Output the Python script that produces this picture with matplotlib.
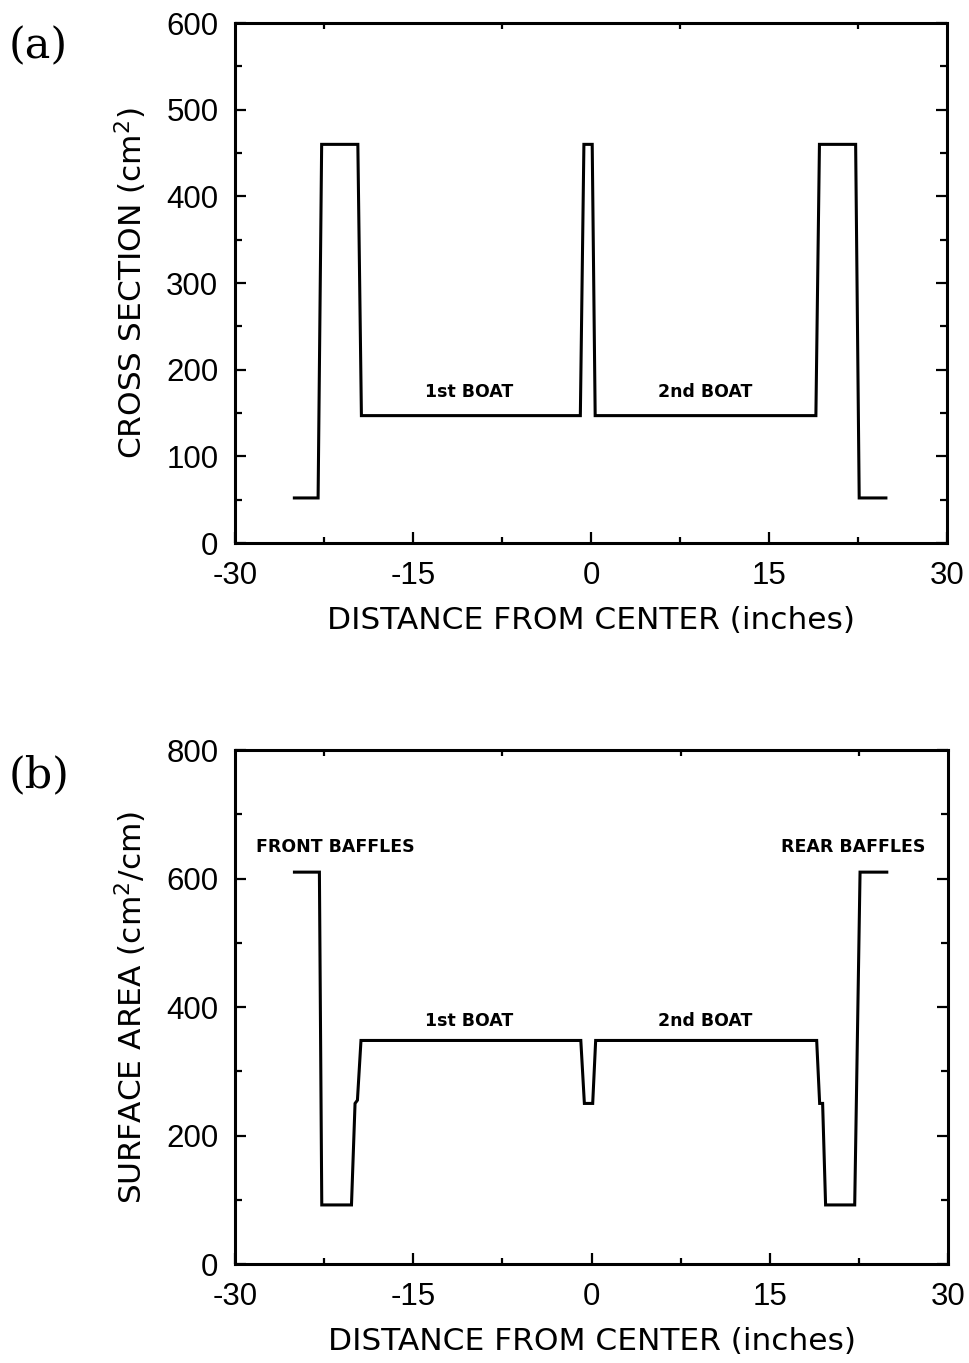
import matplotlib
matplotlib.use("Agg")
import matplotlib.pyplot as plt
from matplotlib import font_manager
from matplotlib.ticker import MultipleLocator

# Panel (a): cross section profile along the furnace (inches, cm^2)
xs_pos = [-25.0, -23.0, -22.7, -19.65, -19.35, -0.9, -0.6, 0.1, 0.35,
          18.95, 19.25, 22.3, 22.6, 24.85]
xs_val = [52, 52, 460, 460, 147, 147, 460, 460, 147,
          147, 460, 460, 52, 52]

# Panel (b): surface area per unit length (inches, cm^2/cm)
sa_pos = [-25.0, -22.9, -22.7, -20.2, -19.9, -19.7, -19.4, -0.9, -0.6, 0.1, 0.35,
          18.95, 19.2, 19.45, 19.7, 22.15, 22.6, 24.85]
sa_val = [610, 610, 92, 92, 250, 255, 348, 348, 250, 250, 348,
          348, 250, 250, 92, 92, 610, 610]

x_ticks = [-30, -15, 0, 15, 30]
xs_yticks = [0, 100, 200, 300, 400, 500, 600]
sa_yticks = [0, 200, 400, 600, 800]

boat_labels = ["1st BOAT", "2nd BOAT"]
boat_x = [-10.3, 9.6]
baffle_labels = ["FRONT BAFFLES", "REAR BAFFLES"]
baffle_x = [-21.6, 22.0]

plt.rcParams["axes.unicode_minus"] = False

installed = {f.name for f in font_manager.fontManager.ttflist}
LABEL_FONT = "DejaVu Sans"
for cand in ["Liberation Sans Narrow", "DejaVu Sans Condensed"]:
    if cand in installed:
        LABEL_FONT = cand
        break
condensed = LABEL_FONT != "DejaVu Sans"
LABEL_SIZE = 25 if condensed else 22.5
TICK_FONT = "Liberation Sans"

fig = plt.figure(figsize=(9.7, 13.63), dpi=100)
ax_a = fig.add_axes([0.2423, 0.6016, 0.7340, 0.3815])
ax_b = fig.add_axes([0.2423, 0.0726, 0.7350, 0.3771])


def style_axes(ax, yticks, yminor):
    ax.set_xlim(-30, 30)
    ax.set_ylim(yticks[0], yticks[-1])
    ax.set_xticks(x_ticks)
    ax.set_yticks(yticks)
    ax.xaxis.set_minor_locator(MultipleLocator(7.5))
    ax.yaxis.set_minor_locator(MultipleLocator(yminor))
    for sp in ax.spines.values():
        sp.set_linewidth(2.2)
    ax.tick_params(which="both", direction="in", top=True, right=True,
                   labeltop=False, labelright=False, width=1.6)
    ax.tick_params(which="major", length=8)
    ax.tick_params(which="minor", length=5)
    ax.tick_params(axis="x", which="major", top=False, pad=13)
    ax.tick_params(axis="x", which="minor", top=True, length=4)
    ax.tick_params(axis="y", which="major", pad=12)
    for lab in ax.get_xticklabels() + ax.get_yticklabels():
        lab.set_fontfamily(TICK_FONT)
        lab.set_fontsize(22.5)
    ax.set_xlabel("DISTANCE FROM CENTER (inches)", fontfamily=LABEL_FONT,
                  fontsize=LABEL_SIZE, labelpad=11)


ax_a.plot(xs_pos, xs_val, color="black", lw=2.2, solid_joinstyle="miter")
style_axes(ax_a, xs_yticks, 50)
ax_a.set_ylabel("CROSS SECTION (cm$^2$)", fontfamily=LABEL_FONT,
                fontsize=LABEL_SIZE, labelpad=12)
for lab, x in zip(boat_labels, boat_x):
    ax_a.text(x, 174, lab, ha="center", va="center", fontfamily=LABEL_FONT,
              fontweight="bold", fontsize=12.5)

ax_b.plot(sa_pos, sa_val, color="black", lw=2.2, solid_joinstyle="miter")
style_axes(ax_b, sa_yticks, 100)
ax_b.set_ylabel("SURFACE AREA (cm$^2$/cm)", fontfamily=LABEL_FONT,
                fontsize=LABEL_SIZE, labelpad=12)
for lab, x in zip(boat_labels, boat_x):
    ax_b.text(x, 378, lab, ha="center", va="center", fontfamily=LABEL_FONT,
              fontweight="bold", fontsize=12.5)
for lab, x in zip(baffle_labels, baffle_x):
    ax_b.text(x, 649, lab, ha="center", va="center", fontfamily=LABEL_FONT,
              fontweight="bold", fontsize=12.5)

fig.text(0.009, 0.966, "(a)", fontfamily="DejaVu Serif", fontsize=31,
         ha="left", va="center")
fig.text(0.009, 0.431, "(b)", fontfamily="DejaVu Serif", fontsize=31,
         ha="left", va="center")

fig.savefig("out.png", dpi=100, facecolor="white")
